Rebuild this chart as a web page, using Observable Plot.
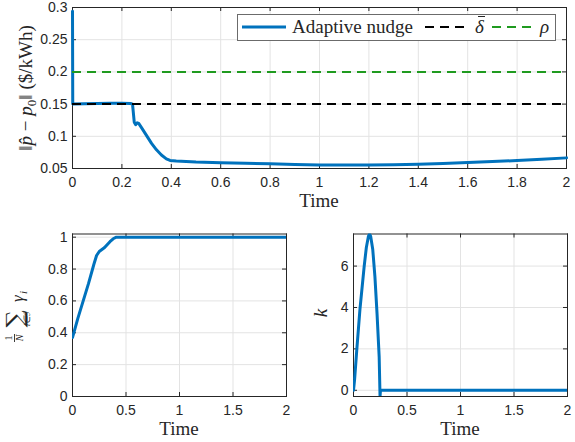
<!DOCTYPE html>
<html><head><meta charset="utf-8">
<script src="https://cdn.jsdelivr.net/npm/d3@7"></script>
<script src="https://cdn.jsdelivr.net/npm/@observablehq/plot@0.6"></script>
<style>
html,body{margin:0;padding:0;background:#fff;}
#wrap{position:relative;width:575px;height:442px;overflow:hidden;background:#fff;}
#wrap svg{position:absolute;}
</style></head><body><div id="wrap"></div>
<script>
// ---------- data ----------
const topTime = [0, 0.001, 0.05, 0.1, 0.15, 0.2, 0.235, 0.243, 0.25, 0.256, 0.262, 0.268, 0.28, 0.3, 0.32, 0.34, 0.36, 0.38, 0.395, 0.42, 0.5, 0.6, 0.7, 0.8, 0.9, 1.0, 1.1, 1.2, 1.3, 1.4, 1.5, 1.6, 1.7, 1.8, 1.9, 2.0];
const nudge = [0.294, 0.150, 0.1505, 0.151, 0.1515, 0.1515, 0.151, 0.150, 0.122, 0.118, 0.121, 0.120, 0.113, 0.101, 0.089, 0.079, 0.071, 0.065, 0.0625, 0.0615, 0.0600, 0.0590, 0.0580, 0.0572, 0.0562, 0.0556, 0.0553, 0.0553, 0.0558, 0.0567, 0.0578, 0.0592, 0.0607, 0.0625, 0.0644, 0.0665];
const deltaBar = [0.15];
const rho = [0.2];
const gammaTime = [0, 0.05, 0.1, 0.15, 0.2, 0.225, 0.25, 0.3, 0.35, 0.38, 0.41, 0.5, 1, 1.5, 2];
const gammaAvg = [0.37, 0.49, 0.60, 0.71, 0.83, 0.885, 0.91, 0.935, 0.972, 0.99, 1.0, 1.0, 1.0, 1.0, 1.0];
const kTime = [0, 0.01, 0.03, 0.06, 0.1, 0.12, 0.14, 0.15, 0.16, 0.18, 0.2, 0.22, 0.24, 0.248, 0.252, 0.3, 1, 2];
const kGain = [0, 0.5, 1.9, 3.9, 6.0, 6.9, 7.45, 7.55, 7.45, 6.8, 5.5, 3.7, 1.6, -0.3, 0, 0, 0, 0];
const topXTicks = [0, 0.2, 0.4, 0.6, 0.8, 1, 1.2, 1.4, 1.6, 1.8, 2];
const topYTicks = [0.05, 0.1, 0.15, 0.2, 0.25, 0.3];
const botXTicks = [0, 0.5, 1, 1.5, 2];
const gammaYTicks = [0, 0.2, 0.4, 0.6, 0.8, 1];
const kYTicks = [0, 2, 4, 6];
const legendLabels = ["Adaptive nudge", "\u03B4", "\u03C1"];

// ---------- style ----------
const BLUE = "#0072BD", GREEN = "#1f9a1f", BLACK = "#000000";
const AX = "#262626", GRID = "#e3e3e3";
const SERIF = "'Liberation Serif','Times New Roman',serif";
const SANS = "'Liberation Sans',Arial,sans-serif";
const LW = 3;
const fmt = d => `${d}`;

const wrap = document.getElementById("wrap");

function panel(o, xDomain, yDomain, xTicks, yTicks, dataMarks) {
  const innerW = o.width - o.marginLeft - o.marginRight;
  const innerH = o.height - o.marginTop - o.marginBottom;
  const svg = Plot.plot({
    width: o.width, height: o.height,
    marginLeft: o.marginLeft, marginRight: o.marginRight, marginTop: o.marginTop, marginBottom: o.marginBottom,
    style: {fontFamily: SANS, fontSize: "14px", color: AX, background: "transparent", overflow: "visible"},
    x: {domain: xDomain},
    y: {domain: yDomain},
    marks: [
      Plot.gridX(xTicks, {stroke: GRID, strokeOpacity: 1}),
      Plot.gridY(yTicks, {stroke: GRID, strokeOpacity: 1}),
      Plot.tickX(xTicks, {x: d => d, insetTop: innerH - 4, stroke: AX}),
      Plot.tickX(xTicks, {x: d => d, insetBottom: innerH - 4, stroke: AX}),
      Plot.tickY(yTicks, {y: d => d, insetRight: innerW - 4, stroke: AX}),
      Plot.tickY(yTicks, {y: d => d, insetLeft: innerW - 4, stroke: AX}),
      Plot.frame({stroke: AX}),
      ...dataMarks,
      Plot.axisX(xTicks, {tickSize: 0, tickPadding: 9, label: null, tickFormat: fmt, fill: AX}),
      Plot.axisY(yTicks, {tickSize: 0, tickPadding: 5, label: null, tickFormat: fmt, fill: AX})
    ]
  });
  svg.style.left = o.left + "px";
  svg.style.top = o.top + "px";
  wrap.appendChild(svg);
  const box = {x0: o.marginLeft, x1: o.width - o.marginRight, y0: o.marginTop, y1: o.height - o.marginBottom};
  const s = d3.select(svg);
  s.append("text").attr("x", (box.x0 + box.x1) / 2).attr("y", box.y1 + 39)
    .attr("text-anchor", "middle").attr("font-family", SERIF).attr("font-size", 19).attr("fill", AX).text("Time");
  return {s, box};
}

function txt(parent, x, y, str, opts = {}) {
  return parent.append("text").attr("x", x).attr("y", y)
    .attr("text-anchor", opts.anchor || "start")
    .attr("font-family", opts.family || SERIF).attr("font-size", opts.size || 19)
    .attr("font-style", opts.italic ? "italic" : "normal")
    .attr("fill", AX).text(str);
}

// ---------- top panel ----------
const topP = panel({left: 0, top: 0, width: 575, height: 215, marginLeft: 72, marginRight: 9, marginTop: 7, marginBottom: 47},
  [0, 2], [0.05, 0.3], topXTicks, topYTicks, [
    Plot.line(topTime, {x: topTime, y: nudge, stroke: BLUE, strokeWidth: LW}),
    Plot.ruleY(deltaBar, {y: d => d, stroke: BLACK, strokeWidth: 2, strokeDasharray: "9,6"}),
    Plot.ruleY(rho, {y: d => d, stroke: GREEN, strokeWidth: 2, strokeDasharray: "9,6"})
  ]);
{
  const s = topP.s;
  const yl = s.append("text").attr("transform", "translate(32,88) rotate(-90)")
    .attr("text-anchor", "middle").attr("font-family", SERIF).attr("font-size", 19).attr("fill", AX);
  yl.append("tspan").text("\u2016");
  yl.append("tspan").attr("font-style", "italic").text("p\u0302");
  yl.append("tspan").text(" \u2212 ");
  yl.append("tspan").attr("font-style", "italic").text("p");
  yl.append("tspan").attr("font-size", 13).attr("dy", 4).text("0");
  yl.append("tspan").attr("dy", -4).text("\u2016 ($/kWh)");
  // legend
  const g = s.append("g");
  g.append("rect").attr("x", 237.5).attr("y", 14.5).attr("width", 318).attr("height", 26)
    .attr("fill", "#fff").attr("stroke", "#6b6b6b");
  g.append("line").attr("x1", 242).attr("x2", 286).attr("y1", 27).attr("y2", 27).attr("stroke", BLUE).attr("stroke-width", LW);
  txt(g, 292, 33, legendLabels[0]);
  g.append("line").attr("x1", 425).attr("x2", 470).attr("y1", 27).attr("y2", 27).attr("stroke", BLACK).attr("stroke-width", 2).attr("stroke-dasharray", "9,6");
  txt(g, 475, 33, legendLabels[1], {italic: true});
  g.append("line").attr("x1", 478).attr("x2", 485).attr("y1", 16.5).attr("y2", 16.5).attr("stroke", AX).attr("stroke-width", 1);
  g.append("line").attr("x1", 492).attr("x2", 535).attr("y1", 27).attr("y2", 27).attr("stroke", GREEN).attr("stroke-width", 2).attr("stroke-dasharray", "9,6");
  txt(g, 540, 33, legendLabels[2], {italic: true});
}

// ---------- bottom-left panel ----------
const blP = panel({left: 0, top: 215, width: 290, height: 227, marginLeft: 72, marginRight: 4, marginTop: 18.5, marginBottom: 46},
  [0, 2], [0, 1.02], botXTicks, gammaYTicks, [
    Plot.line(gammaTime, {x: gammaTime, y: gammaAvg, stroke: BLUE, strokeWidth: LW, clip: true})
  ]);
{
  // label: (1/N) sum_{i in I} gamma_i, rotated
  const g = blP.s.append("g").attr("transform", "translate(23,98) rotate(-90)");
  txt(g, -25, -11, "1", {size: 10, anchor: "middle"});
  g.append("line").attr("x1", -29).attr("x2", -21).attr("y1", -8.5).attr("y2", -8.5).attr("stroke", AX).attr("stroke-width", 0.9);
  txt(g, -25, -0.5, "N", {size: 10, italic: true, anchor: "middle"});
  txt(g, -6, 0, "\u2211", {size: 24, anchor: "middle", family: "'DejaVu Serif',serif"});
  txt(g, -6, 6.5, "i\u2208\u2110", {size: 9, italic: true, anchor: "middle"});
  txt(g, 11, 0, "\u03B3", {size: 17, italic: true});
  txt(g, 19, 3.5, "i", {size: 11, italic: true});
}

// ---------- bottom-right panel ----------
const brP = panel({left: 290, top: 215, width: 285, height: 227, marginLeft: 63, marginRight: 8, marginTop: 18.5, marginBottom: 46},
  [0, 2], [-0.3, 7.55], botXTicks, kYTicks, [
    Plot.line(kTime, {x: kTime, y: kGain, stroke: BLUE, strokeWidth: LW, clip: true})
  ]);
{
  const g = brP.s.append("g").attr("transform", "translate(37,98) rotate(-90)");
  txt(g, 0, 0, "k", {italic: true, anchor: "middle"});
}
</script></body></html>
